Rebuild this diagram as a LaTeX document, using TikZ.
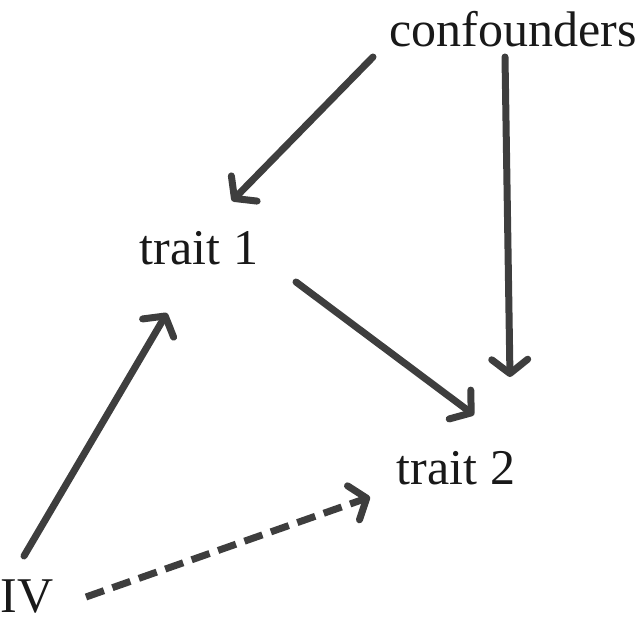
\documentclass[tikz,border=0pt]{standalone}
\usepackage{fontspec}
\setmainfont{Liberation Serif}
\usetikzlibrary{arrows.meta}
\definecolor{arrowgray}{HTML}{3E3E3E}
\tikzset{
  lbl/.style={inner sep=0pt, font=\fontsize{50}{58}\selectfont, text=black!90},
  causal/.style={draw=arrowgray, line width=7pt, line cap=round, line join=round,
    -{Straight Barb[length=14pt,width=36pt,line cap=round,line join=round]}},
  weak/.style={causal, dash pattern=on 19pt off 9pt, line cap=butt}
}
\begin{document}
\begin{tikzpicture}[x=1pt,y=1pt]
\useasboundingbox (0,0) rectangle (638,629);
\node[lbl] (conf) at (513,600) {confounders};
\node[lbl] (t1) at (199,381) {trait 1};
\node[lbl] (t2) at (456,161) {trait 2};
\node[lbl, anchor=west] (iv) at (0.5,32) {IV};
% endpoints
\coordinate (c1s) at (373,572);
\coordinate (c1e) at (232,428);
\coordinate (c2s) at (505,572);
\coordinate (c2e) at (510,252);
\coordinate (t12s) at (296,347);
\coordinate (t12e) at (474,214);
\coordinate (iv1s) at (24,73);
\coordinate (iv1e) at (167,316);
\coordinate (iv2s) at (86,32);
\coordinate (iv2e) at (370,132);
\draw[causal] (c1s) -- (c1e);
\draw[causal] (c2s) -- (c2e);
\draw[causal] (t12s) -- (t12e);
\draw[causal] (iv1s) -- (iv1e);
\draw[weak] (iv2s) -- (iv2e);
\end{tikzpicture}
\end{document}
